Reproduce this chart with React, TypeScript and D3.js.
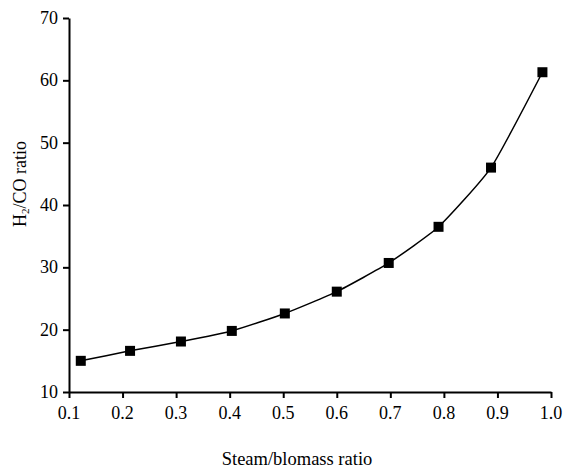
import React, { useRef, useEffect } from "react";
import * as d3 from "d3";

// steam/biomass ratio vs H2/CO ratio
const steamRatio = [0.122, 0.214, 0.309, 0.404, 0.503, 0.6, 0.697, 0.79, 0.888, 0.984];
const h2coRatio = [15.0, 16.6, 18.1, 19.8, 22.6, 26.1, 30.7, 36.5, 46.0, 61.3];
const xTicks = [0.1, 0.2, 0.3, 0.4, 0.5, 0.6, 0.7, 0.8, 0.9, 1.0];
const yTicks = [10, 20, 30, 40, 50, 60, 70];

export default function App() {
  const svgRef = useRef<SVGSVGElement>(null);

  useEffect(() => {
    const width = 573;
    const height = 473;
    const svg = d3.select(svgRef.current);
    svg.selectAll("*").remove();

    const x = d3.scaleLinear().domain([0.1, 1.0]).range([69, 551]);
    const y = d3.scaleLinear().domain([10, 70]).range([392, 18]);
    const font = "'Liberation Serif', 'Times New Roman', serif";

    const xAxis = svg
      .append("g")
      .attr("transform", "translate(0,392)")
      .call(
        d3.axisBottom(x).tickValues(xTicks).tickSize(6)
          .tickSizeOuter(0).tickFormat(() => "")
      );
    const yAxis = svg
      .append("g")
      .attr("transform", "translate(69,0)")
      .call(
        d3.axisLeft(y).tickValues(yTicks).tickSize(6)
          .tickSizeOuter(0).tickFormat(() => "")
      );
    [xAxis, yAxis].forEach((g) => {
      g.select(".domain").attr("stroke", "#000").attr("stroke-width", 2);
      g.selectAll(".tick line").attr("stroke", "#000").attr("stroke-width", 2);
    });

    // tick labels
    svg
      .append("g")
      .selectAll("text")
      .data(xTicks)
      .join("text")
      .attr("x", (d) => x(d))
      .attr("y", 419)
      .attr("text-anchor", "middle")
      .attr("font-family", font)
      .attr("font-size", 18)
      .text((d) => d3.format(".1f")(d));
    svg
      .append("g")
      .selectAll("text")
      .data(yTicks)
      .join("text")
      .attr("x", 58)
      .attr("y", (d) => y(d) + 6)
      .attr("text-anchor", "end")
      .attr("font-family", font)
      .attr("font-size", 18)
      .text((d) => String(d));

    const pts = steamRatio.map((s, i) => [s, h2coRatio[i]] as [number, number]);

    svg
      .append("path")
      .datum(pts)
      .attr("fill", "none")
      .attr("stroke", "#000")
      .attr("stroke-width", 1.5)
      .attr(
        "d",
        d3.line<[number, number]>()
          .x((d) => x(d[0]))
          .y((d) => y(d[1]))
          .curve(d3.curveCardinal.tension(0.5))
      );

    const sq = 10;
    svg
      .append("g")
      .selectAll("rect")
      .data(pts)
      .join("rect")
      .attr("x", (d) => x(d[0]) - sq / 2)
      .attr("y", (d) => y(d[1]) - sq / 2)
      .attr("width", sq)
      .attr("height", sq)
      .attr("fill", "#000");

    svg
      .append("text")
      .attr("x", 297)
      .attr("y", 465)
      .attr("text-anchor", "middle")
      .attr("font-family", font)
      .attr("font-size", 18.5)
      .text("Steam/blomass ratio");

    const yl = svg
      .append("text")
      .attr("transform", "translate(26,184) rotate(-90)")
      .attr("text-anchor", "middle")
      .attr("font-family", font)
      .attr("font-size", 18);
    yl.append("tspan").text("H");
    yl.append("tspan").attr("font-size", 11).attr("dy", 3).text("2");
    yl.append("tspan").attr("dy", -3).text("/CO ratio");

    svg.attr("width", width).attr("height", height);
  }, []);

  return (
    <svg
      ref={svgRef}
      width={573}
      height={473}
      style={{ position: "absolute", left: 0, top: 0, background: "#fff" }}
    />
  );
}
